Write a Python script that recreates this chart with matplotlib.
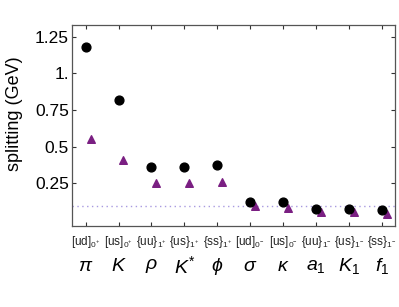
import numpy as np
import matplotlib
matplotlib.use('Agg')
import matplotlib.pyplot as plt
import matplotlib.transforms as mtransforms

plt.rcParams['font.family'] = ['Liberation Sans', 'DejaVu Sans']
plt.rcParams['mathtext.fontset'] = 'custom'
plt.rcParams['mathtext.rm'] = 'Liberation Sans'
plt.rcParams['mathtext.it'] = 'Liberation Sans:italic'

# channels, left to right
mesons = [r'$\pi$', r'$K$', r'$\rho$', r'$K^{*}$', r'$\phi$',
          r'$\sigma$', r'$\kappa$', r'$a_1$', r'$K_1$', r'$f_1$']
diquarks = [r'$[\mathrm{ud}]_{0^{+}}$', r'$[\mathrm{us}]_{0^{+}}$', r'$\{\mathrm{uu}\}_{1^{+}}$',
            r'$\{\mathrm{us}\}_{1^{+}}$', r'$\{\mathrm{ss}\}_{1^{+}}$', r'$[\mathrm{ud}]_{0^{-}}$',
            r'$[\mathrm{us}]_{0^{-}}$', r'$\{\mathrm{uu}\}_{1^{-}}$', r'$\{\mathrm{us}\}_{1^{-}}$',
            r'$\{\mathrm{ss}\}_{1^{-}}$']

# splittings in GeV
meson_split = [1.18, 0.82, 0.36, 0.36, 0.375, 0.12, 0.12, 0.078, 0.077, 0.068]
diquark_split = [0.555, 0.41, 0.25, 0.25, 0.26, 0.095, 0.082, 0.052, 0.052, 0.042]
ref_level = 0.093

def main():
    x = np.arange(1, len(mesons) + 1)

    fig = plt.figure(figsize=(3.99, 3.07), dpi=100)
    ax = fig.add_axes([0.180, 0.264, 0.810, 0.655])

    ax.axhline(ref_level, color='#a899e0', linestyle=(0, (1, 2.5)), lw=1.0, zorder=1)
    ax.scatter(x, meson_split, s=40, color='black', marker='o', zorder=3)
    ax.scatter(x + 0.15, diquark_split, s=30, color='#7a1f82', marker='^', zorder=2)

    ax.set_xlim(0.58, 10.4)
    ax.set_ylim(-0.04, 1.33)
    ax.set_xticks(x)
    ax.set_xticklabels([])
    ax.set_yticks([0.25, 0.5, 0.75, 1.0, 1.25])
    ax.set_yticklabels(['0.25', '0.5', '0.75', '1.', '1.25'], fontsize=12.5)
    ax.tick_params(direction='in', length=3, width=0.8, top=True, right=True,
                   labelright=False, pad=2, color='#333333')
    for sp in ax.spines.values():
        sp.set_color('#555555')
        sp.set_linewidth(0.9)

    ax.set_ylabel('splitting (GeV)', fontsize=13)
    ax.yaxis.set_label_coords(-0.15, 0.557)

    # two rows of category labels under the axis
    trans = mtransforms.blended_transform_factory(ax.transData, ax.transAxes)
    for xi, dq, ms in zip(x, diquarks, mesons):
        ax.text(xi, -0.08, dq, transform=trans, ha='center', va='center', fontsize=8.5, color='#222222')
        ax.text(xi, -0.20, ms, transform=trans, ha='center', va='center', fontsize=14)

    fig.savefig('out.png', dpi=100)


if __name__ == '__main__':
    main()
